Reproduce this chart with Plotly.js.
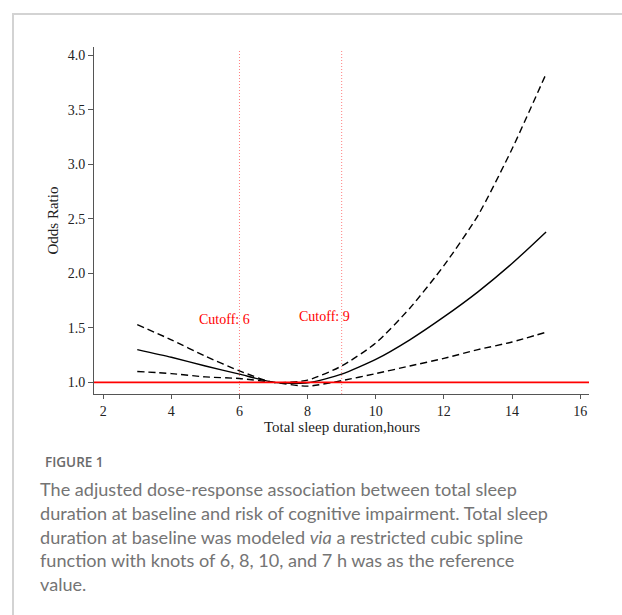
<!DOCTYPE html>
<html>
<head>
<meta charset="utf-8">
<script src="https://cdn.plot.ly/plotly-3.0.1.min.js"></script>
<style>
  html, body { margin: 0; padding: 0; background: #fff; width: 622px; height: 615px; overflow: hidden; }
  #frame { position: absolute; left: 12px; top: 13px; width: 700px; height: 700px;
           border-left: 2px solid #d3d3d3; border-top: 2px solid #d3d3d3; }
  #chart { position: absolute; left: 0; top: 0; width: 622px; height: 440px; }
  #figlabel { position: absolute; left: 45px; top: 453px; font-family: "Open Sans", Lato, sans-serif;
              font-size: 13.5px; font-weight: 600; color: #6a6a6a; }
  #caption { position: absolute; left: 40px; top: 478px; width: 570px; font-family: Lato, "Open Sans", sans-serif;
             font-size: 18.1px; line-height: 23.8px; color: #747474; }
</style>
</head>
<body>
<div id="frame"></div>
<div id="chart"></div>
<div id="figlabel">FIGURE 1</div>
<div id="caption">The adjusted dose-response association between total sleep<br>duration at baseline and risk of cognitive impairment. Total sleep<br>duration at baseline was modeled <i>via</i> a restricted cubic spline<br>function with knots of 6, 8, 10, and 7 h was as the reference<br>value.</div>
<script>
const hours = [3, 4, 5, 6, 7, 8, 9, 10, 11, 12, 13, 14, 15];
const orEstimate = [1.30, 1.23, 1.15, 1.075, 1.00, 0.995, 1.075, 1.21, 1.39, 1.60, 1.83, 2.09, 2.38];
const orUpper    = [1.53, 1.39, 1.24, 1.105, 1.00, 1.02, 1.15, 1.36, 1.68, 2.07, 2.53, 3.14, 3.83];
const orLower    = [1.10, 1.08, 1.05, 1.035, 1.00, 0.965, 1.015, 1.08, 1.15, 1.22, 1.30, 1.37, 1.46];
const cutoffs = [6, 9];
const cutoffLabels = ["Cutoff: 6", "Cutoff: 9"];
const cutoffLabelX = [5.55, 8.49];
const cutoffLabelY = [1.58, 1.60];
const refOR = 1;
const xTicks = [2, 4, 6, 8, 10, 12, 14, 16];
const yTicks = [1.0, 1.5, 2.0, 2.5, 3.0, 3.5, 4.0];
const xTitle = "Total sleep duration,hours";
const yTitle = "Odds Ratio";

const serif = "Liberation Serif, Times New Roman, serif";

const traces = [
  { x: hours, y: orUpper, mode: "lines", line: { color: "#000", width: 1.4, dash: "7px,4px", shape: "spline", smoothing: 0.6 }, hoverinfo: "skip" },
  { x: hours, y: orLower, mode: "lines", line: { color: "#000", width: 1.4, dash: "7px,4px", shape: "spline", smoothing: 0.6 }, hoverinfo: "skip" },
  { x: hours, y: orEstimate, mode: "lines", line: { color: "#000", width: 1.4, shape: "spline", smoothing: 0.6 }, hoverinfo: "skip" }
];

const shapes = cutoffs.map(c => ({
  type: "line", xref: "x", yref: "paper", x0: c, x1: c, y0: 0, y1: 0.994,
  line: { color: "#ff8080", width: 1, dash: "1px,2px" }, layer: "below"
}));
shapes.push({ type: "line", xref: "paper", yref: "y", x0: 0, x1: 1, y0: refOR, y1: refOR,
  line: { color: "#ff0000", width: 1.6 } });

const annotations = cutoffLabels.map((t, i) => ({
  x: cutoffLabelX[i], y: cutoffLabelY[i], xref: "x", yref: "y", text: t, showarrow: false,
  font: { family: serif, size: 14, color: "#ff0000" }
}));
annotations.push({ xref: "paper", yref: "paper", x: 0.5, y: -0.095, yanchor: "middle", xanchor: "center",
  text: xTitle, showarrow: false, font: { family: serif, size: 15, color: "#222" } });
annotations.push({ xref: "paper", yref: "paper", x: -0.0848, y: 0.50, yanchor: "middle", xanchor: "center",
  textangle: -90, text: yTitle, showarrow: false, font: { family: serif, size: 15, color: "#222" } });

const layout = {
  width: 622, height: 440,
  margin: { l: 94, r: 33, t: 47, b: 46 },
  paper_bgcolor: "rgba(0,0,0,0)", plot_bgcolor: "rgba(0,0,0,0)",
  showlegend: false,
  xaxis: {
    range: [1.73, 16.26], tickvals: xTicks, ticktext: xTicks.map(String),
    showgrid: false, zeroline: false, showline: true, linecolor: "#555", linewidth: 1,
    ticks: "outside", ticklen: 4, tickcolor: "#555",
    tickfont: { family: serif, size: 14, color: "#222" }
  },
  yaxis: {
    range: [0.893, 4.076], tickvals: yTicks, ticktext: yTicks.map(v => v.toFixed(1)),
    showgrid: false, zeroline: false, showline: true, linecolor: "#555", linewidth: 1,
    ticks: "outside", ticklen: 5, tickcolor: "#555",
    tickfont: { family: serif, size: 14, color: "#222" }
  },
  shapes: shapes,
  annotations: annotations
};

Plotly.newPlot("chart", traces, layout, { displayModeBar: false, staticPlot: true });
</script>
</body>
</html>
